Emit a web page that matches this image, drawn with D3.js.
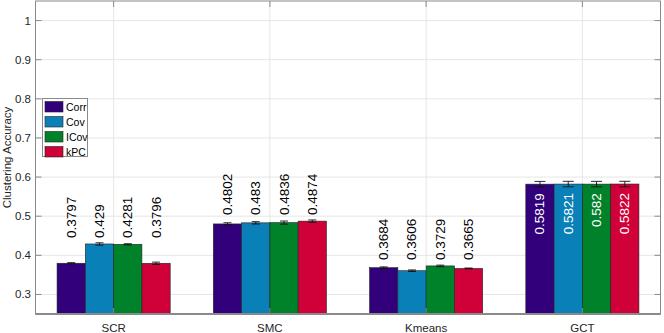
<!DOCTYPE html>
<html>
<head>
<meta charset="utf-8">
<script src="https://cdn.jsdelivr.net/npm/d3@7"></script>
<style>
  html, body { margin: 0; padding: 0; background: #fff; }
  svg text { font-family: "Liberation Sans", Arial, Helvetica, sans-serif; }
</style>
</head>
<body>
<div id="chart"></div>
<script>
// data
var methods = ["SCR", "SMC", "Kmeans", "GCT"];
var series = ["Corr", "Cov", "ICov", "kPC"];
var corrVals = [0.3797, 0.4802, 0.3684, 0.5819];
var covVals  = [0.429,  0.483,  0.3606, 0.5821];
var icovVals = [0.4281, 0.4836, 0.3729, 0.582];
var kpcVals  = [0.3796, 0.4874, 0.3665, 0.5822];
var corrErr = [0.0015, 0.003, 0.002, 0.007];
var covErr  = [0.003,  0.003, 0.002, 0.007];
var icovErr = [0.0015, 0.004, 0.002, 0.007];
var kpcErr  = [0.003,  0.003, 0.001, 0.007];
var yTicks = [0.3, 0.4, 0.5, 0.6, 0.7, 0.8, 0.9, 1];

var colors = ["#31007a", "#0a80b8", "#00822a", "#d00038"];
var allVals = [corrVals, covVals, icovVals, kpcVals];
var allErr = [corrErr, covErr, icovErr, kpcErr];

var svgWidth = 664, svgHeight = 333;
// plot box (note: "top" is taken by window.top)
var pLeft = 35.5, pRight = 660.5, pTop = 1, pBottom = 314;

var svg = d3.select("#chart").append("svg")
  .attr("width", svgWidth)
  .attr("height", svgHeight);

var x = d3.scaleBand()
  .domain(methods)
  .range([pLeft, pRight])
  .paddingInner(0.276)
  .paddingOuter(0.138);

var xs = d3.scaleBand()
  .domain(series)
  .range([0, x.bandwidth()]);

var y = d3.scaleLinear()
  .domain([0.25, 1.05])
  .range([pBottom, pTop]);

// grid
var grid = svg.append("g");
grid.selectAll(".hg").data(yTicks).enter().append("line")
  .attr("x1", pLeft).attr("x2", pRight)
  .attr("y1", d => y(d)).attr("y2", d => y(d))
  .attr("stroke", "#e6e6e6").attr("stroke-width", 1);
grid.selectAll(".vg").data(methods).enter().append("line")
  .attr("x1", d => x(d) + x.bandwidth() / 2).attr("x2", d => x(d) + x.bandwidth() / 2)
  .attr("y1", pTop).attr("y2", pBottom)
  .attr("stroke", "#e6e6e6").attr("stroke-width", 1);

// rows for the bars
var rows = [];
methods.forEach(function(m, i) {
  series.forEach(function(s, j) {
    rows.push({m: m, s: s, j: j, v: allVals[j][i], e: allErr[j][i],
      gmax: d3.max(allVals, a => a[i])});
  });
});

var bars = svg.append("g");
bars.selectAll("rect").data(rows).enter().append("rect")
  .attr("x", d => x(d.m) + xs(d.s))
  .attr("y", d => y(d.v))
  .attr("width", xs.bandwidth())
  .attr("height", d => pBottom - y(d.v))
  .attr("fill", d => colors[d.j])
  .attr("stroke", "#222")
  .attr("stroke-width", 0.6);

// error bars
var eb = svg.append("g").attr("stroke", "#111").attr("stroke-width", 0.9);
rows.forEach(function(d) {
  var cx = x(d.m) + xs(d.s) + xs.bandwidth() / 2;
  var capW = d.e > 0.005 ? 5.5 : 4;
  eb.append("line").attr("x1", cx).attr("x2", cx)
    .attr("y1", y(d.v - d.e)).attr("y2", y(d.v + d.e));
  eb.append("line").attr("x1", cx - capW).attr("x2", cx + capW)
    .attr("y1", y(d.v + d.e)).attr("y2", y(d.v + d.e));
  eb.append("line").attr("x1", cx - capW).attr("x2", cx + capW)
    .attr("y1", y(d.v - d.e)).attr("y2", y(d.v - d.e));
});

// value labels
var insideLimit = 0.55;
svg.append("g").selectAll("text").data(rows).enter().append("text")
  .attr("transform", function(d) {
    var cx = x(d.m) + xs(d.s) + xs.bandwidth() / 2;
    var ty = d.gmax > insideLimit ? y(d.v) + 9 : y(d.gmax) - 6;
    return "translate(" + cx + "," + ty + ") rotate(-90)";
  })
  .attr("text-anchor", d => d.gmax > insideLimit ? "end" : "start")
  .attr("dominant-baseline", "central")
  .attr("font-size", "13.5px")
  .attr("fill", d => d.gmax > insideLimit ? "#fff" : "#000")
  .text(d => String(d.v));

// axes box
var axisColor = "#8a8a8a";
svg.append("rect")
  .attr("x", pLeft).attr("y", pTop)
  .attr("width", pRight - pLeft).attr("height", pBottom - pTop)
  .attr("fill", "none").attr("stroke", axisColor).attr("stroke-width", 1);
svg.append("line").attr("x1", pLeft).attr("x2", pRight)
  .attr("y1", pBottom).attr("y2", pBottom)
  .attr("stroke", axisColor).attr("stroke-width", 1.8);

// ticks
var tk = svg.append("g").attr("stroke", axisColor).attr("stroke-width", 1);
yTicks.forEach(function(t) {
  tk.append("line").attr("x1", pLeft).attr("x2", pLeft + 6).attr("y1", y(t)).attr("y2", y(t));
  tk.append("line").attr("x1", pRight - 6).attr("x2", pRight).attr("y1", y(t)).attr("y2", y(t));
});
methods.forEach(function(m) {
  var cx = x(m) + x.bandwidth() / 2;
  tk.append("line").attr("x1", cx).attr("x2", cx).attr("y1", pBottom).attr("y2", pBottom - 6);
  tk.append("line").attr("x1", cx).attr("x2", cx).attr("y1", pTop).attr("y2", pTop + 6);
});

// tick labels
svg.append("g").selectAll("text").data(yTicks).enter().append("text")
  .attr("x", 31).attr("y", d => y(d))
  .attr("text-anchor", "end")
  .attr("dominant-baseline", "central")
  .attr("font-size", "11.5px")
  .attr("fill", "#262626")
  .text(d => d3.format("~g")(d));

svg.append("g").selectAll("text").data(methods).enter().append("text")
  .attr("x", d => x(d) + x.bandwidth() / 2).attr("y", 331.5)
  .attr("text-anchor", "middle")
  .attr("font-size", "11.5px")
  .attr("fill", "#262626")
  .text(d => d);

svg.append("text")
  .attr("transform", "translate(7," + ((pTop + pBottom) / 2) + ") rotate(-90)")
  .attr("text-anchor", "middle")
  .attr("dominant-baseline", "central")
  .attr("font-size", "11.5px")
  .attr("fill", "#262626")
  .text("Clustering Accuracy");

// legend
var lg = svg.append("g").attr("transform", "translate(42.5,98.5)");
lg.append("rect").attr("width", 45).attr("height", 58)
  .attr("fill", "#fff").attr("stroke", "#8a8a8a").attr("stroke-width", 1);
series.forEach(function(s, j) {
  var g = lg.append("g").attr("transform", "translate(2.5," + (3 + j * 15) + ")");
  g.append("rect").attr("width", 18).attr("height", 10.5)
    .attr("fill", colors[j]).attr("stroke", "#222").attr("stroke-width", 0.6);
  g.append("text").attr("x", 21).attr("y", 5.5)
    .attr("dominant-baseline", "central")
    .attr("font-size", "10.5px")
    .attr("fill", "#000")
    .text(s);
});
</script>
</body>
</html>
